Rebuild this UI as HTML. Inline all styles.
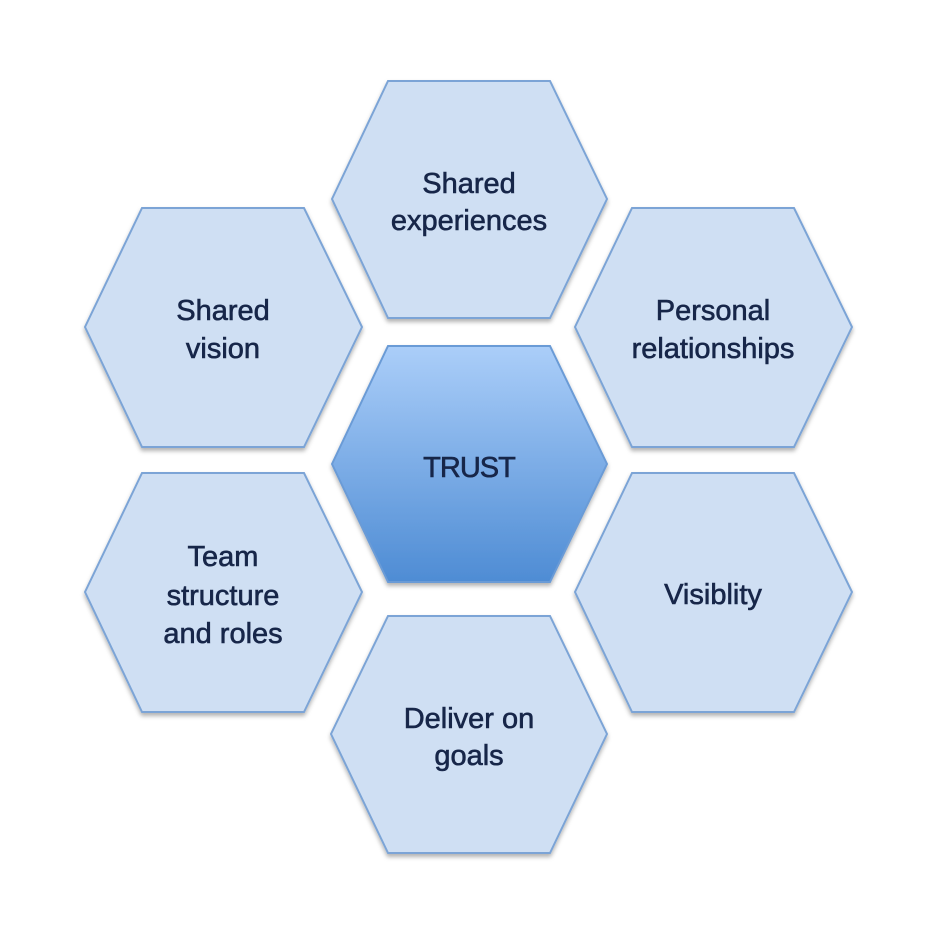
<!DOCTYPE html>
<html>
<head>
<meta charset="utf-8">
<style>
  html, body { margin: 0; padding: 0; background: #ffffff; }
  svg { display: block; }
  text { font-family: "Liberation Sans", sans-serif; font-size: 29px; fill: #172649; stroke: #172649; stroke-width: 0.6px; text-anchor: middle; }
</style>
</head>
<body>
<svg width="950" height="950" viewBox="0 0 950 950" xmlns="http://www.w3.org/2000/svg">
  <defs>
    <linearGradient id="g" x1="0" y1="0" x2="0" y2="1">
      <stop offset="0" stop-color="#abcef9"/>
      <stop offset="1" stop-color="#4e8cd4"/>
    </linearGradient>
    <filter id="sh" x="-10%" y="-10%" width="120%" height="125%">
      <feDropShadow dx="0" dy="3" stdDeviation="2" flood-color="#000" flood-opacity="0.3"/>
    </filter>
  </defs>
  <g stroke="#7ba4d6" stroke-width="2" fill="#cfdff3" filter="url(#sh)">
    <polygon points="388,81 550,81 607,199 550,318 388,318 332,199"/>
    <polygon points="142,208 304,208 362,327 304,447 142,447 85,327"/>
    <polygon points="632,208 794,208 852,327 794,447 632,447 575,327"/>
    <polygon points="142,473 304,473 362,592 304,712 142,712 85,592"/>
    <polygon points="632,473 794,473 852,592 794,712 632,712 575,592"/>
    <polygon points="388,616 550,616 607,734 550,853 388,853 331,734"/>
    <polygon points="388,346 550,346 607,464 550,582 388,582 332,464" fill="url(#g)" stroke="#6b9bd6"/>
  </g>

  <text x="469" y="193">Shared</text>
  <text x="469" y="230">experiences</text>

  <text x="223" y="320">Shared</text>
  <text x="223" y="358">vision</text>

  <text x="713" y="320">Personal</text>
  <text x="713" y="358">relationships</text>

  <text x="469" y="477" style="letter-spacing:-1px">TRUST</text>

  <text x="223" y="566">Team</text>
  <text x="223" y="605">structure</text>
  <text x="223" y="643">and roles</text>

  <text x="713" y="604">Visiblity</text>

  <text x="469" y="728">Deliver on</text>
  <text x="469" y="765">goals</text>
</svg>
</body>
</html>
